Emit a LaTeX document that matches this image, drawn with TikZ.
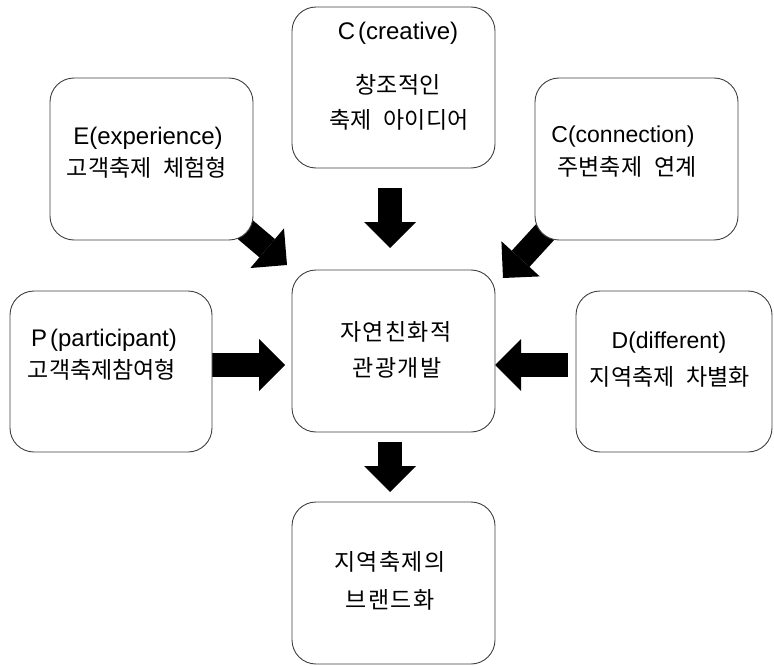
\documentclass[tikz,border=0pt]{standalone}
\usepackage{fontspec}
\setmainfont{Liberation Sans}
\newfontfamily\krfont{Noto Sans CJK KR}
\newfontfamily\krwide{Noto Sans CJK KR}[LetterSpace=6]
\usetikzlibrary{arrows.meta}
\pgfdeclarelayer{background}
\pgfsetlayers{background,main}
\newcommand{\wsp}{\hspace{12pt}}
\begin{document}
\begin{tikzpicture}[x=1pt,y=-1pt,
  box/.style={draw=black!75, line width=0.9pt, rounded corners=24pt, fill=white,
    inner sep=0pt, outer sep=0pt},
  lat/.style={font=\fontsize{23}{28}\selectfont, inner sep=0pt},
  latbig/.style={font=\fontsize{24}{28}\selectfont, inner sep=0pt},
  kor/.style={font=\fontsize{23}{28}\selectfont\krfont, inner sep=0pt},
  korwide/.style={font=\fontsize{23}{28}\selectfont\krwide, inner sep=0pt},
  barrow/.style={line width=24pt,
    -{Triangle[length=26pt,width=52pt,line width=0pt]}}
]
\useasboundingbox (0,0) rectangle (774,666);

% boxes
\node[box, minimum width=203pt, minimum height=161pt] (cre) at (393.5,87.5) {};
\node[box, minimum width=203pt, minimum height=162pt] (exp) at (151.5,159) {};
\node[box, minimum width=203pt, minimum height=162pt] (con) at (636.5,159) {};
\node[box, minimum width=202pt, minimum height=161pt] (par) at (111,371.5) {};
\node[box, minimum width=196pt, minimum height=161pt] (dif) at (674,371.5) {};
\node[box, minimum width=203pt, minimum height=162pt] (ctr) at (393.5,351) {};
\node[box, minimum width=203pt, minimum height=162pt] (brd) at (393.5,583) {};

% texts
\node[latbig] (cre1) at (398,33) {C\hspace{3pt}(creative)};
\node[kor] (cre2) at (398,85) {창조적인};
\node[kor] (cre3) at (399,120) {축제\wsp 아이디어};

\node[latbig] (exp1) at (148,138) {E(experience)};
\node[kor] (exp2) at (147,168) {고객축제\wsp 체험형};

\node[lat] (con1) at (623,137) {C(connection)};
\node[kor] (con2) at (627,167) {주변축제\wsp 연계};

\node[latbig] (par1) at (104,340) {P\hspace{3pt}(participant)};
\node[kor] (par2) at (102,370) {고객축제참여형};

\node[lat] (dif1) at (669,343) {D(different)};
\node[kor] (dif2) at (670,377) {지역축제\wsp 차별화};

\node[korwide] (ctr1) at (396,332) {자연친화적};
\node[korwide] (ctr2) at (397,368) {관광개발};

\node[korwide] (brd1) at (390,562) {지역축제의};
\node[korwide] (brd2) at (390,600) {브랜드화};

% arrow ends
\coordinate (creT) at (390,188);
\coordinate (creH) at (390,248);
\coordinate (expT) at (228,215);
\coordinate (expH) at (287,265);
\coordinate (conT) at (558,218);
\coordinate (conH) at (503,278);
\coordinate (parT) at (212,365);
\coordinate (parH) at (285,365);
\coordinate (difT) at (568,365);
\coordinate (difH) at (495,365);
\coordinate (ctrT) at (390,442);
\coordinate (ctrH) at (390,492);

\begin{pgfonlayer}{background}
\draw[barrow] (creT) -- (creH);
\draw[barrow] (expT) -- (expH);
\draw[barrow] (conT) -- (conH);
\draw[barrow] (parT) -- (parH);
\draw[barrow] (difT) -- (difH);
\draw[barrow] (ctrT) -- (ctrH);
\end{pgfonlayer}
\end{tikzpicture}
\end{document}
